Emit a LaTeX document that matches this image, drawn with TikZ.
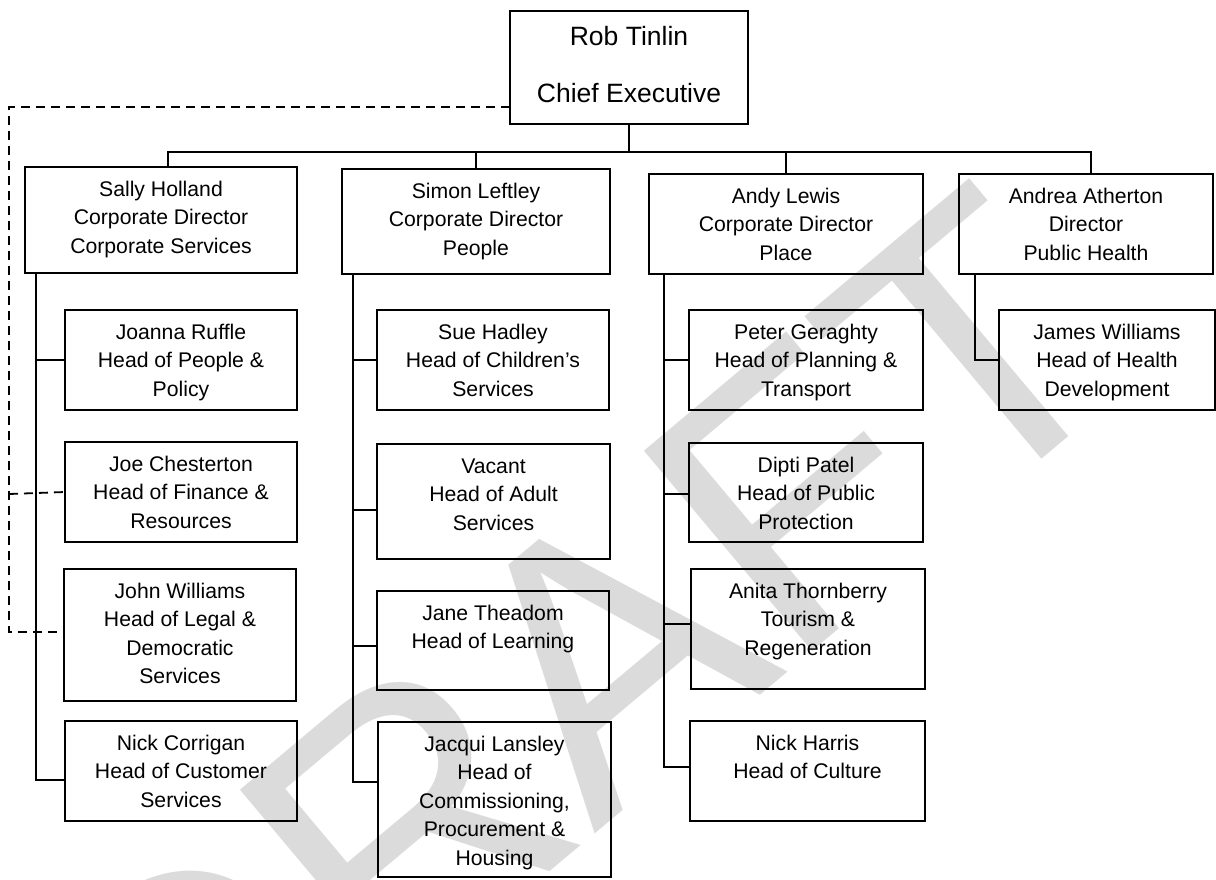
\documentclass[tikz,border=0pt]{standalone}
\usepackage{fontspec}
\setmainfont{Liberation Sans}
\definecolor{wm}{RGB}{219,219,219}
\newcommand\orgbox[6]{\node[box] (#1) at (#2,#3) {\parbox[c][#5pt][t]{#4pt}{\fontsize{21.2pt}{28.4pt}\selectfont\centering\rule{0pt}{29.5pt}#6\par}};}
\begin{document}
\begin{tikzpicture}[x=1pt,y=-1pt,
  box/.style={draw,line width=1.4pt,inner sep=0pt,outer sep=0pt,anchor=north west},
  conn/.style={line width=1.4pt},
  dashconn/.style={line width=1.8pt,dash pattern=on 9pt off 6pt}]
\useasboundingbox (0,0) rectangle (1216,879);
\begin{scope}
\clip (0,0) rectangle (1216,879);
\node[rotate=40,text=wm,inner sep=0pt] (draft) at (575,680) {\fontsize{380pt}{380pt}\selectfont DRAFT};
\end{scope}
% CEO
\node[box] (ceo) at (510,11) {\parbox[c][113pt][t]{238pt}{\fontsize{26.5pt}{57.5pt}\selectfont\centering\rule{0pt}{34pt}Rob Tinlin\\Chief Executive\par}};
% directors
\orgbox{sally}{25}{167}{272}{106}{Sally Holland\\Corporate Director\\Corporate Services}
\orgbox{simon}{342}{169}{268}{105}{Simon Leftley\\Corporate Director\\People}
\orgbox{andy}{649}{174}{274}{100}{Andy Lewis\\Corporate Director\\Place}
\orgbox{andrea}{959}{174}{254}{100}{Andrea Atherton\\Director\\Public Health}
% corporate services
\orgbox{joanna}{65}{310}{232}{100}{Joanna Ruffle\\Head of People \&\\Policy}
\orgbox{joe}{65}{442}{232}{100}{Joe Chesterton\\Head of Finance \&\\Resources}
\orgbox{john}{64}{569}{232}{132}{John Williams\\Head of Legal \&\\Democratic\\Services}
\orgbox{nickc}{65}{721}{232}{100}{Nick Corrigan\\Head of Customer\\Services}
% people
\orgbox{sue}{377}{310}{232}{100}{Sue Hadley\\Head of Children’s\\Services}
\orgbox{vacant}{377}{444}{233}{115}{Vacant\\Head of Adult\\Services}
\orgbox{jane}{377}{591}{232}{99}{Jane Theadom\\Head of Learning}
\orgbox{jacqui}{378}{722}{233}{155}{Jacqui Lansley\\Head of\\Commissioning,\\Procurement \&\\Housing}
% place
\orgbox{peter}{689}{310}{234}{100}{Peter Geraghty\\Head of Planning \&\\Transport}
\orgbox{dipti}{689}{443}{234}{99}{Dipti Patel\\Head of Public\\Protection}
\orgbox{anita}{691}{569}{234}{120}{Anita Thornberry\\Tourism \&\\Regeneration}
\orgbox{nickh}{690}{721}{235}{100}{Nick Harris\\Head of Culture}
% public health
\orgbox{james}{999}{310}{216}{100}{James Williams\\Head of Health\\Development}
% top connectors
\draw[conn] (ceo.south) -- ++(0,28);
\draw[conn] ([xshift=7pt]sally.north) -- ++(0,-15) -| ([xshift=5pt]andrea.north);
\draw[conn] (simon.north) -- ++(0,-17);
\draw[conn] (andy.north) -- ++(0,-22);
% spines
\draw[conn] ([xshift=11pt]sally.south west) |- (joanna.west);
\draw[conn] ([xshift=11pt]sally.south west) |- ([yshift=-9pt]nickc.west);
\draw[conn] ([xshift=11pt]simon.south west) |- (sue.west);
\draw[conn] ([xshift=11pt]simon.south west) |- ([yshift=-8.5pt]vacant.west);
\draw[conn] ([xshift=11pt]simon.south west) |- ([yshift=-5.5pt]jane.west);
\draw[conn] ([xshift=11pt]simon.south west) |- ([yshift=17.5pt]jacqui.west);
\draw[conn] ([xshift=15pt]andy.south west) |- (peter.west);
\draw[conn] ([xshift=15pt]andy.south west) |- ([yshift=-1.5pt]dipti.west);
\draw[conn] ([xshift=15pt]andy.south west) |- ([yshift=5pt]anita.west);
\draw[conn] ([xshift=15pt]andy.south west) |- ([yshift=4pt]nickh.west);
\draw[conn] ([xshift=16pt]andrea.south west) |- (james.west);
% dashed lines
\coordinate (dk) at (9,494);
\draw[dashconn] ([yshift=-39.5pt]ceo.west) -| (dk) |- ([yshift=3pt]john.west);
\draw[dashconn] (dk) -- (joe.west);
\end{tikzpicture}
\end{document}
